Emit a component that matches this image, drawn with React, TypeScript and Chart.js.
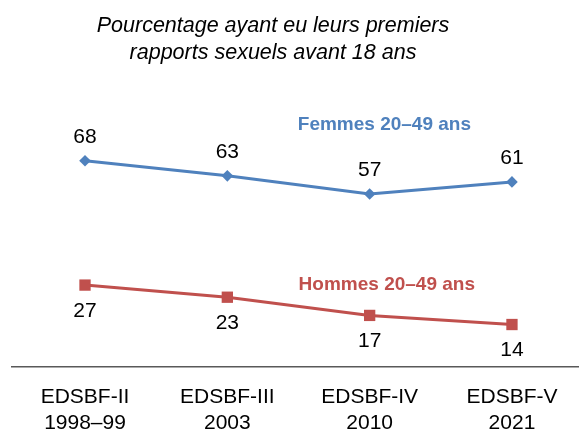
import React, { useEffect, useRef } from "react";
import { Chart, registerables } from "chart.js";

Chart.register(...registerables);

const titleLines = ["Pourcentage ayant eu leurs premiers", "rapports sexuels avant 18 ans"];
const categoryLabels: string[][] = [
  ["EDSBF-II", "1998–99"],
  ["EDSBF-III", "2003"],
  ["EDSBF-IV", "2010"],
  ["EDSBF-V", "2021"],
];
const femmesLabel = "Femmes 20–49 ans";
const femmesValues = [68, 63, 57, 61];
const hommesLabel = "Hommes 20–49 ans";
const hommesValues = [27, 23, 17, 14];

const BLUE = "#4F81BD";
const RED = "#C0504D";
const FONT = "'Liberation Sans', Arial, sans-serif";

const overlayPlugin = {
  id: "overlay",
  afterDatasetsDraw(chart: any) {
    const ctx = chart.ctx;
    ctx.save();
    // title
    ctx.fillStyle = "#000";
    ctx.font = `italic 21.5px ${FONT}`;
    ctx.textAlign = "center";
    ctx.textBaseline = "middle";
    titleLines.forEach((t, i) => ctx.fillText(t, 273, 26 + i * 27));

    // value labels
    ctx.font = `21px ${FONT}`;
    chart.data.datasets.forEach((ds: any, di: number) => {
      const meta = chart.getDatasetMeta(di);
      meta.data.forEach((pt: any, i: number) => {
        const off = di === 0 ? -23.5 : 26;
        ctx.fillText(String(ds.data[i].y), pt.x, pt.y + off);
      });
    });

    // series labels
    ctx.font = `bold 19px ${FONT}`;
    ctx.textAlign = "right";
    ctx.fillStyle = BLUE;
    ctx.fillText(femmesLabel, 471, 125);
    ctx.fillStyle = RED;
    ctx.fillText(hommesLabel, 475, 285);
    ctx.restore();
  },
};

export default function App() {
  const ref = useRef<HTMLCanvasElement>(null);
  useEffect(() => {
    const chart = new Chart(ref.current!, {
      type: "line",
      data: {
        datasets: [
          {
            label: femmesLabel,
            data: femmesValues.map((v, i) => ({ x: i, y: v })),
            borderColor: BLUE,
            backgroundColor: BLUE,
            borderWidth: 3,
            pointStyle: "rectRot",
            pointRadius: 5.8,
            pointBorderWidth: 0,
            tension: 0,
          },
          {
            label: hommesLabel,
            data: hommesValues.map((v, i) => ({ x: i, y: v })),
            borderColor: RED,
            backgroundColor: RED,
            borderWidth: 3,
            pointStyle: "rect",
            pointRadius: 8,
            pointBorderWidth: 0,
            tension: 0,
          },
        ],
      },
      options: {
        animation: false,
        responsive: false,
        layout: { autoPadding: false, padding: { top: 100, left: 12, right: 0, bottom: 0 } },
        plugins: {
          legend: { display: false },
          title: { display: false },
          tooltip: { enabled: false },
        },
        scales: {
          x: {
            type: "linear",
            min: -0.513,
            max: 3.471,
            afterBuildTicks: (scale: any) => {
              scale.ticks = categoryLabels.map((_, i) => ({ value: i }));
            },
            afterFit: (scale: any) => {
              scale.height = 66;
              scale.paddingLeft = 0;
              scale.paddingRight = 0;
            },
            grid: { display: false, drawTicks: false },
            border: { display: true, color: "#595959", width: 1.5 },
            ticks: {
              autoSkip: false,
              maxRotation: 0,
              padding: 17,
              color: "#000",
              font: { family: FONT, size: 21, lineHeight: 1.26 },
              callback: (v: any) => categoryLabels[v] ?? "",
            },
          },
          y: {
            display: false,
            min: 0,
            max: 88,
          },
        },
      },
      plugins: [overlayPlugin],
    });
    return () => chart.destroy();
  }, []);
  return (
    <div style={{ position: "fixed", left: 0, top: 0, width: 579, height: 433, background: "#fff" }}>
      <canvas ref={ref} width={579} height={433} />
    </div>
  );
}
